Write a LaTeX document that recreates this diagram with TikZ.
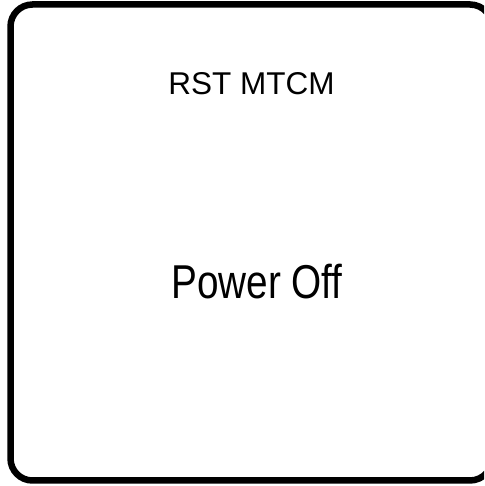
\documentclass[tikz,border=0pt]{standalone}
\usepackage{fontspec}
\setmainfont{Liberation Sans}
\newfontfamily\narrowfont[FakeStretch=0.815]{Liberation Sans}
\usepackage{tikz}
\usetikzlibrary{calc}

\begin{document}
\begin{tikzpicture}[x=1pt,y=1pt]

    % Fix the page size and cut off what runs past it
    \useasboundingbox (0,0) rectangle (484,486);
    \clip (0,0) rectangle (484,486);

    % Draw the rounded frame of the panel (its right side runs off the page)
    \draw[line width=6.5pt]
        ($(470,459.5)+(40:22)$) arc[start angle=40, end angle=90, radius=22]
        -- (32.5,481.5) arc[start angle=90, end angle=180, radius=22]
        -- (10.5,27.5) arc[start angle=180, end angle=270, radius=22]
        -- (470,5.5) arc[start angle=270, end angle=320, radius=22];

    % Label the panel
    \node[anchor=base, inner sep=0pt, font=\fontsize{31.5}{36}\selectfont] (title) at (251.5,391) {RST MTCM};
    \node[anchor=base, inner sep=0pt, font=\narrowfont\fontsize{47.5}{54}\selectfont] (state) at (257,187) {Power Off};

\end{tikzpicture}
\end{document}
